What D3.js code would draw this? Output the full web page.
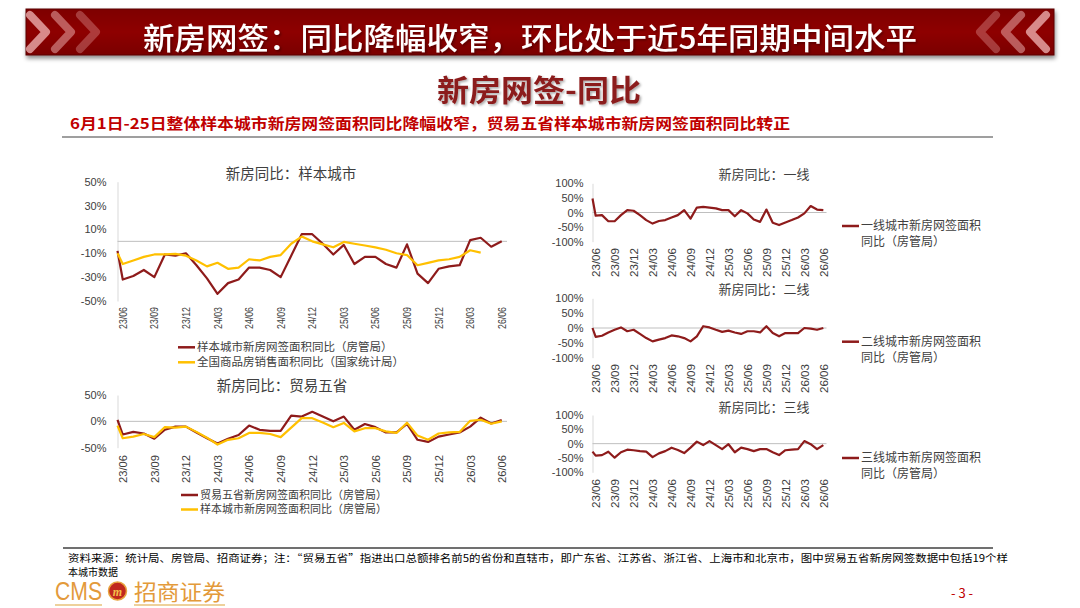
<!DOCTYPE html>
<html>
<head>
<meta charset="utf-8">
<script src="https://cdn.jsdelivr.net/npm/d3@7"></script>
<style>
  html, body { margin: 0; padding: 0; background: #fff; }
  svg { display: block; font-family: "Noto Sans CJK SC", "Noto Sans", sans-serif; }
</style>
</head>
<body>
<div id="chart"></div>
<script>
// x axis tick labels, one every 3 months (23/06 .. 26/06)
const tickLabels = ['23/06', '23/09', '23/12', '24/03', '24/06', '24/09', '24/12',
  '25/03', '25/06', '25/09', '25/12', '26/03', '26/06'];

// first value of each series is the partial period drawn at the axis, then monthly 23/06..26/06
const sampleCity = [-8, -32, -29, -24, -30, -11, -12, -10, -20, -31, -44, -35, -32, -22, -22, -24,
  -30, -12, 6, 6, -2, -11, -3, -19, -13, -13, -19, -22, -2.5, -27, -35, -23, -21, -20, 1, 3, -4.5, 0];
const national = [-10, -19, -16, -13, -11, -11, -10.5, -12, -16, -21, -18, -23, -22, -15, -16, -13,
  -11.5, -2, 4, 0, -2.5, -5, -0.5, -2, -3.5, -5, -7, -10, -11.5, -20, -18, -16, -15, -13, -7.5, -9.5];
const tradeFive = [3, -25, -20, -23, -33, -16, -10, -10, -21, -32, -42, -33, -26, -8, -16, -18, -18,
  11, 9, 18, 9, 0, 9, -16, -5, -11, -21, -21, -5, -35, -39, -29, -25, -21, -10, 7, -4, 2.5];
const tier1 = [48, -11, -9, -30, -30, -9, 8, 6, -9, -26, -38, -29, -26, -17, -9, 8, -21, 17, 19, 17,
  14, 8, 8, -13, 8, -3, -24, -32, 10, -35, -43, -34, -26, -17, -3, 22, 10, 8];
const tier2 = [0, -30, -26, -15, -6, 2, -11, -6, -20, -34, -45, -39, -34, -25, -28, -34, -45, -28, 6,
  2, -6, -13, -9, -15, -20, -11, -11, -15, 6, -17, -28, -17, -17, -17, 0, -2, -6, 0];
const tier3 = [-28, -42, -40, -28, -49, -30, -21, -23, -26, -28, -47, -34, -26, -14, -22, -33, -14, 7,
  -5, 9, -5, -19, -2, -30, -14, -19, -26, -19, -19, -30, -40, -23, -21, -19, 9, -2, -19, -5];

const RED = '#8E1B1B';
const YELLOW = '#FFC000';
const GREY_TXT = '#404040';

const svg = d3.select('#chart').append('svg')
  .attr('width', 1080)
  .attr('height', 608);

const defs = svg.append('defs');
const grad = defs.append('linearGradient').attr('id', 'bannerGrad')
  .attr('x1', 0).attr('y1', 0).attr('x2', 0).attr('y2', 1);
grad.append('stop').attr('offset', '0%').attr('stop-color', '#7E0000');
grad.append('stop').attr('offset', '50%').attr('stop-color', '#8E0606');
grad.append('stop').attr('offset', '100%').attr('stop-color', '#7A0000');
const shadow = defs.append('filter').attr('id', 'shadow')
  .attr('x', '-5%').attr('y', '-20%').attr('width', '110%').attr('height', '160%');
shadow.append('feDropShadow').attr('dx', 1).attr('dy', 3).attr('stdDeviation', 2)
  .attr('flood-color', '#000').attr('flood-opacity', 0.45);
const tshadow = defs.append('filter').attr('id', 'tshadow');
tshadow.append('feDropShadow').attr('dx', 1.5).attr('dy', 1.5).attr('stdDeviation', 0.8)
  .attr('flood-color', '#000').attr('flood-opacity', 0.35);

// ---- banner
svg.append('rect')
  .attr('x', 26).attr('y', 9).attr('width', 1028).attr('height', 46)
  .attr('fill', 'url(#bannerGrad)')
  .attr('stroke', '#5A0000').attr('stroke-width', 1)
  .attr('filter', 'url(#shadow)');

const chevOpac = [0.75, 0.5, 0.32];
chevOpac.forEach((o, k) => {
  const lx = 30 + k * 25;
  svg.append('polyline')
    .attr('points', `${lx},15 ${lx + 16},32 ${lx},49`)
    .attr('fill', 'none').attr('stroke', '#F2B8B8').attr('stroke-opacity', o)
    .attr('stroke-width', 8).attr('stroke-linecap', 'round').attr('stroke-linejoin', 'round');
  const rx = 1046 - k * 25;
  svg.append('polyline')
    .attr('points', `${rx},15 ${rx - 16},32 ${rx},49`)
    .attr('fill', 'none').attr('stroke', '#F2B8B8').attr('stroke-opacity', o)
    .attr('stroke-width', 8).attr('stroke-linecap', 'round').attr('stroke-linejoin', 'round');
});

svg.append('text')
  .attr('x', 143).attr('y', 49)
  .attr('textLength', 774).attr('lengthAdjust', 'spacingAndGlyphs')
  .attr('font-size', 30).attr('font-weight', 500)
  .attr('fill', '#fff').attr('filter', 'url(#tshadow)')
  .text('新房网签：同比降幅收窄，环比处于近5年同期中间水平');

// ---- section title and subtitle
svg.append('text')
  .attr('x', 437).attr('y', 101)
  .attr('textLength', 204).attr('lengthAdjust', 'spacingAndGlyphs')
  .attr('font-size', 30).attr('font-weight', 700)
  .attr('fill', '#8B1A1A').attr('filter', 'url(#tshadow)')
  .text('新房网签-同比');

svg.append('text')
  .attr('x', 70).attr('y', 129)
  .attr('textLength', 720).attr('lengthAdjust', 'spacingAndGlyphs')
  .attr('font-size', 15).attr('font-weight', 700)
  .attr('fill', '#C00000')
  .text('6月1日-25日整体样本城市新房网签面积同比降幅收窄，贸易五省样本城市新房网签面积同比转正');

svg.append('line')
  .attr('x1', 62).attr('x2', 993).attr('y1', 137).attr('y2', 137)
  .attr('stroke', '#7F7F7F').attr('stroke-width', 1.5);

// ---- chart panels
function monthPos(i) { return i === 0 ? -0.5 : i - 1; }

function drawPanel(p) {
  const x = d3.scaleLinear().domain([-0.5, 36.5]).range([p.x0, p.x1]);
  const y = d3.scaleLinear().domain(p.domain).range([p.yBot, p.yTop]);
  const g = svg.append('g');

  g.append('text')
    .attr('x', p.titleX).attr('y', p.titleY)
    .attr('text-anchor', 'middle')
    .attr('font-size', p.titleSize)
    .attr('fill', GREY_TXT)
    .text(p.title);

  const ya = g.append('g')
    .attr('transform', `translate(${p.x0},0)`)
    .call(d3.axisLeft(y).tickValues(p.yTicks).tickFormat((d) => d + '%')
      .tickSize(0).tickPadding(p.yPad));
  ya.select('.domain').attr('stroke', '#D9D9D9');
  ya.selectAll('text')
    .attr('font-family', '"Liberation Sans", Arial, sans-serif')
    .attr('font-size', p.yFont)
    .attr('fill', GREY_TXT);

  g.append('line')
    .attr('x1', p.x0).attr('x2', p.x1)
    .attr('y1', y(0)).attr('y2', y(0))
    .attr('stroke', '#BFBFBF').attr('stroke-width', 1);

  const xa = g.append('g')
    .attr('transform', `translate(0,${p.labelTop})`)
    .call(d3.axisBottom(x).tickValues(tickLabels.map((d, k) => k * 3))
      .tickFormat((d, k) => tickLabels[k]).tickSize(0));
  xa.select('.domain').remove();
  xa.selectAll('text')
    .attr('transform', 'rotate(-90)')
    .attr('x', 0).attr('y', 0).attr('dy', '0.35em')
    .attr('text-anchor', 'end')
    .attr('font-family', '"Liberation Sans", Arial, sans-serif')
    .attr('font-size', p.xFont)
    .attr('textLength', p.xLen).attr('lengthAdjust', 'spacingAndGlyphs')
    .attr('fill', GREY_TXT);

  const line = d3.line()
    .x((d, i) => x(monthPos(i)))
    .y((d) => y(d));

  p.series.forEach((s) => {
    g.append('path')
      .datum(s.values)
      .attr('d', line)
      .attr('fill', 'none')
      .attr('stroke', s.color)
      .attr('stroke-width', 2.2)
      .attr('stroke-linejoin', 'round');
  });

  p.series.forEach((s, k) => {
    const ly = p.legY + k * p.legStep;
    g.append('line')
      .attr('x1', p.legX).attr('x2', p.legX + 17)
      .attr('y1', ly).attr('y2', ly)
      .attr('stroke', s.color).attr('stroke-width', 2.5);
    s.label.forEach((t, j) => {
      g.append('text')
        .attr('x', p.legX + 19).attr('y', ly + j * p.legLine)
        .attr('dy', '0.36em')
        .attr('font-size', p.legFont)
        .attr('fill', GREY_TXT)
        .text(t);
    });
  });
}

drawPanel({
  title: '新房同比：样本城市', titleX: 291, titleY: 179, titleSize: 14.5,
  x0: 117.5, x1: 507, yTop: 181.7, yBot: 301, domain: [-50, 50],
  yTicks: [-50, -30, -10, 10, 30, 50], yPad: 11, yFont: 11,
  labelTop: 307, xFont: 10, xLen: 22,
  series: [
    { values: sampleCity, color: RED, label: ['样本城市新房网签面积同比（房管局）'] },
    { values: national, color: YELLOW, label: ['全国商品房销售面积同比（国家统计局）'] }
  ],
  legX: 178, legY: 347.3, legStep: 15, legLine: 0, legFont: 11.5
});

drawPanel({
  title: '新房同比：贸易五省', titleX: 282, titleY: 391, titleSize: 14.5,
  x0: 117.5, x1: 507, yTop: 395, yBot: 447.7, domain: [-50, 50],
  yTicks: [-50, 0, 50], yPad: 11, yFont: 11,
  labelTop: 455, xFont: 11, xLen: 28,
  series: [
    { values: tradeFive, color: RED, label: ['贸易五省新房网签面积同比（房管局）'] },
    { values: sampleCity, color: YELLOW, label: ['样本城市新房网签面积同比（房管局）'] }
  ],
  legX: 181, legY: 495, legStep: 14.5, legLine: 0, legFont: 11
});

drawPanel({
  title: '新房同比：一线', titleX: 764, titleY: 179, titleSize: 13,
  x0: 592.5, x1: 826.5, yTop: 183.3, yBot: 241.7, domain: [-100, 100],
  yTicks: [-100, -50, 0, 50, 100], yPad: 9, yFont: 11,
  labelTop: 248, xFont: 11, xLen: 29,
  series: [
    { values: tier1, color: RED, label: ['一线城市新房网签面积', '同比（房管局）'] }
  ],
  legX: 842, legY: 226, legStep: 0, legLine: 15.5, legFont: 12
});

drawPanel({
  title: '新房同比：二线', titleX: 764, titleY: 294, titleSize: 13,
  x0: 592.5, x1: 826.5, yTop: 298.3, yBot: 357.7, domain: [-100, 100],
  yTicks: [-100, -50, 0, 50, 100], yPad: 9, yFont: 11,
  labelTop: 364, xFont: 11, xLen: 29,
  series: [
    { values: tier2, color: RED, label: ['二线城市新房网签面积', '同比（房管局）'] }
  ],
  legX: 842, legY: 341.7, legStep: 0, legLine: 15.5, legFont: 12
});

drawPanel({
  title: '新房同比：三线', titleX: 764, titleY: 412, titleSize: 13,
  x0: 592.5, x1: 826.5, yTop: 415, yBot: 472.3, domain: [-100, 100],
  yTicks: [-100, -50, 0, 50, 100], yPad: 9, yFont: 11,
  labelTop: 479, xFont: 11, xLen: 29,
  series: [
    { values: tier3, color: RED, label: ['三线城市新房网签面积', '同比（房管局）'] }
  ],
  legX: 842, legY: 458, legStep: 0, legLine: 15.5, legFont: 12
});

// ---- footer
svg.append('line')
  .attr('x1', 63).attr('x2', 993).attr('y1', 548).attr('y2', 548)
  .attr('stroke', '#404040').attr('stroke-width', 1.5);

svg.append('text')
  .attr('x', 68).attr('y', 562)
  .attr('font-size', 10).attr('fill', '#000')
  .attr('textLength', 940).attr('lengthAdjust', 'spacingAndGlyphs')
  .text('资料来源：统计局、房管局、招商证券；注：“贸易五省”指进出口总额排名前5的省份和直辖市，即广东省、江苏省、浙江省、上海市和北京市，图中贸易五省新房网签数据中包括19个样');
svg.append('text')
  .attr('x', 68).attr('y', 576)
  .attr('font-size', 10).attr('fill', '#000')
  .text('本城市数据');

// logo
svg.append('text')
  .attr('x', 55).attr('y', 600)
  .attr('font-family', '"Liberation Sans", Arial, sans-serif')
  .attr('font-size', 25)
  .attr('textLength', 47).attr('lengthAdjust', 'spacingAndGlyphs')
  .attr('fill', '#E39A3B')
  .text('CMS');
svg.append('circle')
  .attr('cx', 117.5).attr('cy', 591).attr('r', 9)
  .attr('fill', '#C0281E').attr('stroke', '#E8A33D').attr('stroke-width', 1.5);
svg.append('text')
  .attr('x', 117.5).attr('y', 595.5)
  .attr('text-anchor', 'middle')
  .attr('font-family', '"Liberation Serif", serif').attr('font-style', 'italic').attr('font-weight', 700)
  .attr('font-size', 12).attr('fill', '#F4C04A')
  .text('m');
svg.append('text')
  .attr('x', 134).attr('y', 600)
  .attr('font-size', 22)
  .attr('textLength', 91).attr('lengthAdjust', 'spacingAndGlyphs')
  .attr('fill', '#E39A3B')
  .text('招商证券');
svg.append('line')
  .attr('x1', 55).attr('x2', 102).attr('y1', 605).attr('y2', 605)
  .attr('stroke', '#E8C27A').attr('stroke-width', 1.5);
svg.append('line')
  .attr('x1', 134).attr('x2', 225).attr('y1', 605).attr('y2', 605)
  .attr('stroke', '#E8C27A').attr('stroke-width', 1.5);

svg.append('text')
  .attr('x', 962).attr('y', 598)
  .attr('text-anchor', 'middle')
  .attr('font-size', 13).attr('fill', '#C00000')
  .text('- 3 -');
</script>
</body>
</html>
